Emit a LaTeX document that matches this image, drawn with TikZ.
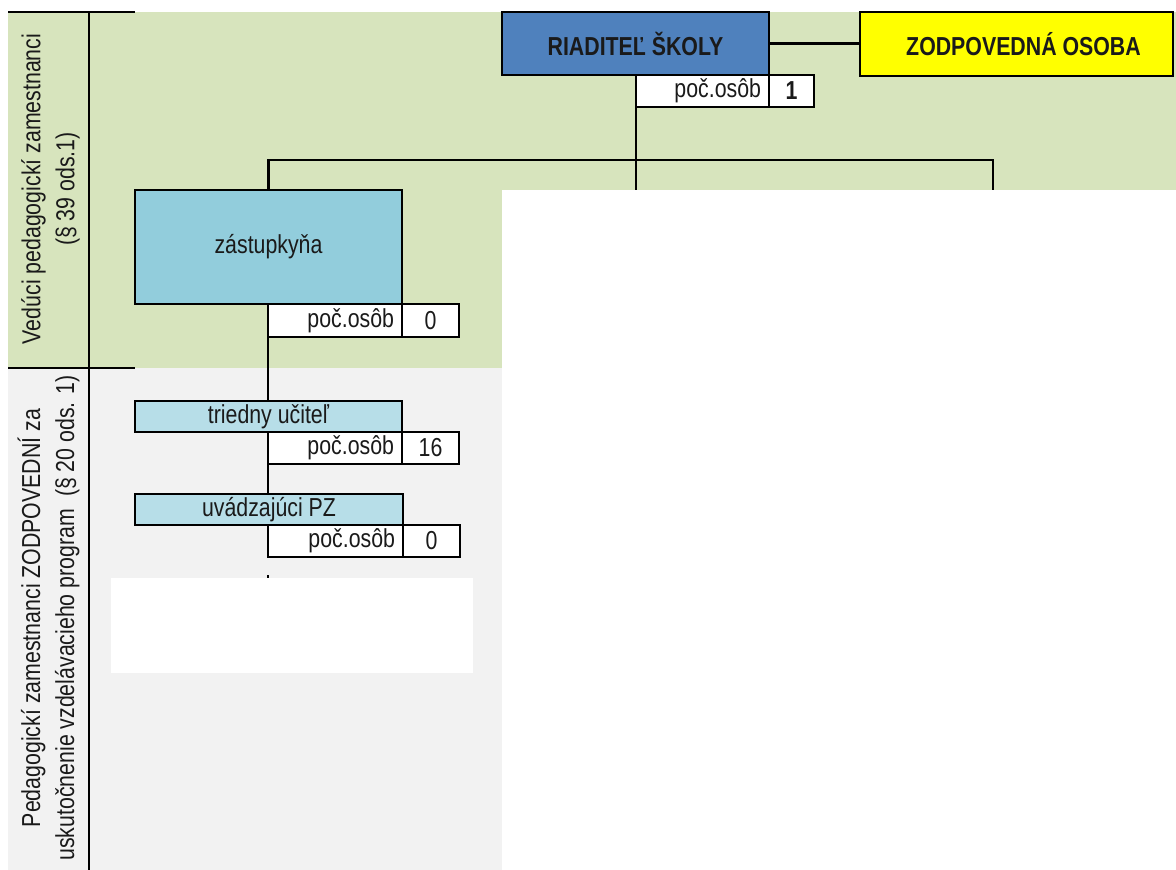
\documentclass[tikz,border=0pt]{standalone}
\usepackage{fontspec}
\setmainfont{Liberation Sans}[FakeStretch=0.82]
\definecolor{bandgreen}{HTML}{D7E4BD}
\definecolor{bandgray}{HTML}{F2F2F2}
\definecolor{dirblue}{HTML}{4F81BD}
\definecolor{zodyellow}{HTML}{FFFF00}
\definecolor{zastblue}{HTML}{92CDDC}
\definecolor{ucitblue}{HTML}{B7DEE8}
\definecolor{txt}{HTML}{1A1A1A}
\begin{document}
\begin{tikzpicture}[x=1pt,y=-1pt,
  every node/.style={inner sep=0pt, outer sep=0pt, text=txt, font=\fontsize{26}{30}\selectfont},
  box/.style={draw=black, line width=2.5pt, anchor=north west},
  boldtxt/.style={font=\bfseries\fontsize{26}{30}\selectfont},
  countlbl/.style={box, fill=white, inner xsep=8pt, text width=#1, align=right, minimum height=32pt},
  countval/.style={box, fill=white, minimum width=#1, minimum height=32pt},
  ln/.style={line width=2.5pt},
  sidelbl/.style={rotate=90, align=center, font=\fontsize{26}{34}\selectfont}]
\useasboundingbox (0,0) rectangle (1176,870);
\fill[white] (0,0) rectangle (1176,870);
% bands
\fill[bandgreen] (8,12) rectangle (1176,190);
\fill[bandgreen] (8,190) rectangle (502,368);
\fill[bandgray] (8,368) rectangle (502,870);
\fill[white] (111,578) rectangle (473,673);
% side grid lines
\draw[ln] (8,12) -- (135,12);
\draw[ln] (89,12) -- (89,870);
\draw[ln] (8,368) -- (135,368);
% side labels
\node[sidelbl] (lblA) at (50.5,189) {Vedúci pedagogickí zamestnanci\\(§ 39 ods.1)};
\node[sidelbl] (lblB) at (48.5,618) {Pedagogickí zamestnanci ZODPOVEDNÍ za\\uskutočnenie vzdelávacieho program\ \ (§ 20 ods. 1)};
% director
\node[box, fill=dirblue, minimum width=267pt, minimum height=63pt, boldtxt] (dir) at (502,12) {RIADITEĽ ŠKOLY};
\node[countlbl=117pt] (dirl) at (636,75) {poč.osôb};
\node[countval=45pt, boldtxt] (dirv) at (769,75) {1};
% responsible person
\node[box, fill=zodyellow, minimum width=313pt, minimum height=64pt, boldtxt] (zod) at (860,12) {\hspace*{14pt}ZODPOVEDNÁ OSOBA};
\draw[ln] (dir.east) -- (dir.east -| zod.west);
% deputy
\node[box, fill=zastblue, minimum width=267pt, minimum height=114pt] (zast) at (135,190) {zástupkyňa};
\node[countlbl=118pt, minimum height=33pt] (zastl) at (268,304) {poč.osôb};
\node[countval=57pt, minimum height=33pt] (zastv) at (402,304) {0};
% branch bar
\coordinate (bar) at (636,160);
\coordinate (brA) at (636,190);
\coordinate (brB) at (993,190);
\draw[ln] (dirl.south west) -- (brA);
\draw[ln] (zast.north) |- (bar) -| (brB);
% class teacher
\node[box, fill=ucitblue, minimum width=267pt, minimum height=31pt] (ucit) at (135,401) {triedny učiteľ};
\node[countlbl=118pt] (ucitl) at (268,432) {poč.osôb};
\node[countval=57pt] (ucitv) at (402,432) {16};
% induction teacher
\node[box, fill=ucitblue, minimum width=268pt, minimum height=31pt] (uvad) at (135,494) {uvádzajúci PZ};
\node[countlbl=119pt] (uvadl) at (268,525) {poč.osôb};
\node[countval=57pt] (uvadv) at (403,525) {0};
\draw[ln] (zastl.south west) -- (ucit.north -| zastl.south west);
\draw[ln] (ucitl.south west) -- (uvad.north -| ucitl.south west);
\coordinate (tickA) at (268,575);
\coordinate (tickB) at (268,578);
\draw[ln] (tickA) -- (tickB);
\end{tikzpicture}
\end{document}
